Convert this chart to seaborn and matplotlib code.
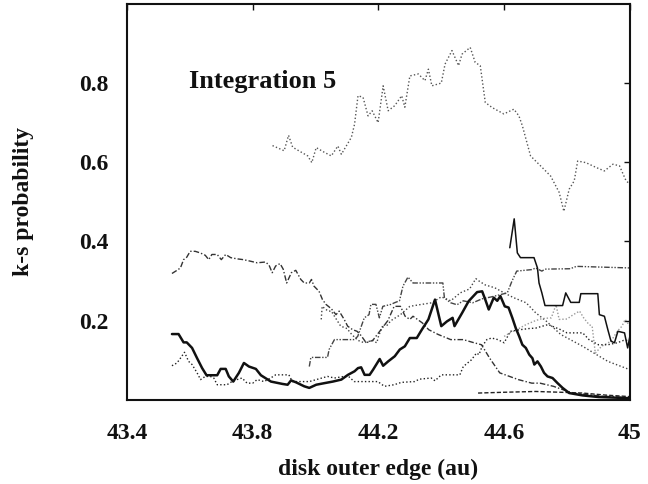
import numpy as np
import pandas as pd
import matplotlib
matplotlib.use("Agg")
import matplotlib.pyplot as plt
import seaborn as sns

# ---------------- data ----------------
x_ticks = [43.4, 43.8, 44.2, 44.6, 45.0]
x_tick_labels = ["43.4", "43.8", "44.2", "44.6", "45"]
y_ticks = [0.2, 0.4, 0.6, 0.8]
y_tick_labels = ["0.2", "0.4", "0.6", "0.8"]

# top gray dotted series
a_x = [43.863, 43.90, 43.914, 43.927, 43.975, 43.988, 44.002, 44.028, 44.05, 44.071, 44.082,
       44.114, 44.124, 44.135, 44.151, 44.167, 44.18, 44.199, 44.215, 44.231, 44.252, 44.274,
       44.284, 44.30, 44.327, 44.348, 44.359, 44.37, 44.40, 44.412, 44.434, 44.455, 44.466,
       44.492, 44.508, 44.524, 44.54, 44.562, 44.599, 44.615, 44.631, 44.647, 44.658, 44.684,
       44.727, 44.748, 44.775, 44.79, 44.807, 44.823, 44.834, 44.86, 44.892, 44.919, 44.946,
       44.967, 44.988, 45.0]
a_y = [0.642, 0.629, 0.668, 0.638, 0.616, 0.599, 0.637, 0.625, 0.616, 0.641, 0.62,
       0.663, 0.696, 0.768, 0.764, 0.717, 0.73, 0.70, 0.793, 0.73, 0.743, 0.768,
       0.739, 0.818, 0.823, 0.806, 0.835, 0.793, 0.80, 0.848, 0.882, 0.844, 0.873,
       0.89, 0.852, 0.844, 0.751, 0.738, 0.722, 0.728, 0.734, 0.717, 0.692, 0.616,
       0.582, 0.565, 0.524, 0.476, 0.532, 0.553, 0.603, 0.599, 0.587, 0.578, 0.595,
       0.591, 0.553, 0.545]

# thick solid series
b_x = [43.543, 43.564, 43.58, 43.59, 43.607, 43.623, 43.639, 43.653, 43.687, 43.698, 43.714,
       43.724, 43.738, 43.756, 43.772, 43.788, 43.81, 43.826, 43.858, 43.895, 43.911, 43.922,
       43.938, 43.964, 43.98, 44.002, 44.028, 44.055, 44.082, 44.103, 44.124, 44.135, 44.145,
       44.156, 44.172, 44.183, 44.204, 44.215, 44.231, 44.252, 44.268, 44.284, 44.30, 44.322,
       44.338, 44.359, 44.38, 44.40, 44.418, 44.436, 44.442, 44.466, 44.487, 44.514, 44.53,
       44.54, 44.551, 44.567, 44.578, 44.588, 44.602, 44.614, 44.626, 44.637, 44.648, 44.658,
       44.669, 44.68, 44.69, 44.696, 44.706, 44.717, 44.727, 44.738, 44.754, 44.77, 44.786,
       44.807, 44.85, 44.90, 45.0]
b_y = [0.166, 0.166, 0.145, 0.145, 0.131, 0.105, 0.08, 0.062, 0.062, 0.078, 0.078,
       0.059, 0.046, 0.068, 0.093, 0.084, 0.078, 0.062, 0.046, 0.04, 0.038, 0.049,
       0.044, 0.034, 0.03, 0.038, 0.042, 0.046, 0.051, 0.063, 0.072, 0.08, 0.082,
       0.063, 0.063, 0.076, 0.103, 0.086, 0.097, 0.110, 0.127, 0.135, 0.156, 0.156,
       0.177, 0.203, 0.253, 0.186, 0.198, 0.207, 0.186, 0.219, 0.249, 0.272, 0.274,
       0.253, 0.228, 0.258, 0.25, 0.262, 0.236, 0.233, 0.207, 0.181, 0.16, 0.139,
       0.131, 0.114, 0.105, 0.089, 0.097, 0.084, 0.068, 0.059, 0.055, 0.042, 0.03,
       0.017, 0.011, 0.007, 0.004]

# thin solid series (right)
c_x = [44.618, 44.632, 44.642, 44.652, 44.695, 44.706, 44.711, 44.72, 44.73, 44.786, 44.796,
       44.812, 44.839, 44.844, 44.898, 44.903, 44.919, 44.93, 44.94, 44.951, 44.962, 44.983,
       44.993, 45.0]
c_y = [0.384, 0.457, 0.371, 0.359, 0.359, 0.333, 0.295, 0.27, 0.238, 0.238, 0.27,
       0.246, 0.246, 0.268, 0.268, 0.215, 0.211, 0.177, 0.148, 0.144, 0.173, 0.169,
       0.131, 0.16]

# dash-dot series
d_x = [43.543, 43.559, 43.57, 43.58, 43.59, 43.601, 43.617, 43.633, 43.649, 43.66, 43.67,
       43.687, 43.70, 43.714, 43.73, 43.75, 43.77, 43.793, 43.814, 43.841, 43.852, 43.862,
       43.873, 43.887, 43.897, 43.908, 43.923, 43.937, 43.953, 43.964, 43.98, 43.987, 43.995,
       44.011, 44.022, 44.033, 44.05, 44.065, 44.075, 44.091, 44.102, 44.118, 44.132, 44.145,
       44.161, 44.182, 44.208, 44.23, 44.25, 44.27, 44.285, 44.30, 44.31, 44.34, 44.36,
       44.39, 44.43, 44.47, 44.50, 44.528, 44.554, 44.586, 44.645, 44.688, 44.714, 44.757,
       44.789, 44.82, 44.9, 45.0]
d_y = [0.319, 0.327, 0.333, 0.354, 0.36, 0.375, 0.375, 0.371, 0.365, 0.354, 0.367,
       0.367, 0.354, 0.367, 0.359, 0.356, 0.354, 0.35, 0.346, 0.348, 0.34, 0.321,
       0.338, 0.344, 0.33, 0.295, 0.321, 0.327, 0.304, 0.295, 0.295, 0.304, 0.287,
       0.274, 0.253, 0.241, 0.23, 0.215, 0.224, 0.203, 0.186, 0.177, 0.173, 0.162,
       0.144, 0.15, 0.177, 0.20, 0.236, 0.236, 0.211, 0.203, 0.211, 0.194, 0.177,
       0.165, 0.152, 0.152, 0.145, 0.139, 0.105, 0.068, 0.051, 0.042, 0.042, 0.034,
       0.025, 0.017, 0.01, 0.005]

# dash-dot-dot stepped series
e_x = [43.98, 43.985, 44.038, 44.043, 44.06, 44.123, 44.134, 44.155, 44.17, 44.176, 44.192,
       44.203, 44.214, 44.24, 44.251, 44.267, 44.278, 44.294, 44.31, 44.405, 44.41, 44.43,
       44.45, 44.47, 44.50, 44.53, 44.56, 44.59, 44.61, 44.625, 44.64, 44.69, 44.70, 44.72,
       44.73, 44.81, 44.83, 45.0]
e_y = [0.084, 0.107, 0.107, 0.127, 0.152, 0.152, 0.16, 0.207, 0.215, 0.241, 0.241,
       0.207, 0.236, 0.241, 0.245, 0.25, 0.287, 0.31, 0.295, 0.295, 0.257, 0.245,
       0.24, 0.25, 0.245, 0.255, 0.26, 0.266, 0.27, 0.30, 0.325, 0.329, 0.333, 0.325,
       0.33, 0.331, 0.337, 0.333]

# dotted low series
f_x = [43.543, 43.559, 43.57, 43.583, 43.596, 43.607, 43.623, 43.634, 43.649, 43.665, 43.676,
       43.687, 43.718, 43.734, 43.75, 43.766, 43.782, 43.80, 43.814, 43.836, 43.857, 43.873,
       43.915, 43.926, 43.98, 44.038, 44.06, 44.091, 44.105, 44.123, 44.198, 44.219, 44.25,
       44.273, 44.315, 44.33, 44.368, 44.38, 44.40, 44.459, 44.47, 44.496, 44.512, 44.52,
       44.53, 44.545, 44.56, 44.58, 44.60, 44.62, 44.65, 44.68, 44.70, 44.74, 44.78, 44.80,
       44.85, 44.87, 44.90, 44.93, 44.96, 44.98, 45.0]
f_y = [0.086, 0.093, 0.105, 0.12, 0.097, 0.089, 0.068, 0.051, 0.059, 0.059, 0.055,
       0.038, 0.038, 0.046, 0.051, 0.055, 0.042, 0.042, 0.051, 0.046, 0.055, 0.063,
       0.063, 0.046, 0.046, 0.059, 0.055, 0.059, 0.059, 0.046, 0.046, 0.034, 0.038,
       0.044, 0.046, 0.052, 0.055, 0.048, 0.063, 0.063, 0.084, 0.101, 0.118, 0.114,
       0.135, 0.152, 0.156, 0.152, 0.144, 0.173, 0.177, 0.18, 0.181, 0.19, 0.177, 0.169,
       0.169, 0.152, 0.139, 0.139, 0.144, 0.15, 0.15]

# dotted series starting near 44.02, long decline
g_x = [44.018, 44.021, 44.03, 44.04, 44.05, 44.06, 44.08, 44.10, 44.115, 44.135, 44.155,
       44.18, 44.195, 44.20, 44.215, 44.225, 44.24, 44.27, 44.30, 44.33, 44.37, 44.40,
       44.43, 44.46, 44.49, 44.51, 44.52, 44.54, 44.57, 44.60, 44.63, 44.67, 44.70, 44.735,
       44.78, 44.85, 44.93, 45.0]
g_y = [0.203, 0.236, 0.23, 0.224, 0.224, 0.211, 0.186, 0.18, 0.165, 0.15, 0.144,
       0.15, 0.144, 0.16, 0.19, 0.186, 0.2, 0.215, 0.236, 0.24, 0.245, 0.26,
       0.25, 0.27, 0.28, 0.306, 0.30, 0.29, 0.283, 0.27, 0.258, 0.245, 0.22, 0.198,
       0.165, 0.135, 0.097, 0.076]

# light gray dotted series (right)
j_x = [44.60, 44.62, 44.64, 44.67, 44.70, 44.72, 44.75, 44.765, 44.775, 44.80, 44.82,
       44.84, 44.853, 44.87, 44.88, 44.89, 44.91, 44.94, 44.96, 44.975, 44.985, 45.0]
j_y = [0.16, 0.17, 0.177, 0.19, 0.20, 0.205, 0.207, 0.24, 0.203, 0.204, 0.215,
       0.224, 0.207, 0.19, 0.186, 0.118, 0.135, 0.148, 0.173, 0.186, 0.203, 0.186]

# dashed flat series at the bottom
k_x = [44.517, 44.60, 44.70, 44.78, 44.85, 44.92, 45.0]
k_y = [0.017, 0.019, 0.021, 0.019, 0.017, 0.012, 0.008]

title_text = "Integration 5"
x_label = "disk outer edge (au)"
y_label = "k-s probability"

# ---------------- styling ----------------
sns.set_theme(style="white")
plt.rcParams["font.family"] = ["Liberation Serif", "DejaVu Serif"]
plt.rcParams["font.weight"] = "bold"

fig = plt.figure(figsize=(6.48, 4.84), dpi=100)
ax = fig.add_axes([0.196, 0.174, 0.776, 0.818])

series = [
    (a_x, a_y, dict(color="#555555", linewidth=1.0, linestyle=(0, (1, 1.6)))),
    (g_x, g_y, dict(color="#444444", linewidth=1.0, linestyle=(0, (1, 1.6)))),
    (j_x, j_y, dict(color="#999999", linewidth=1.0, linestyle=(0, (1, 1.4)))),
    (f_x, f_y, dict(color="#222222", linewidth=1.0, linestyle=(0, (1, 1.6)))),
    (d_x, d_y, dict(color="#333333", linewidth=1.0, linestyle=(0, (4, 1.5, 1, 1.5)))),
    (e_x, e_y, dict(color="#444444", linewidth=1.0, linestyle=(0, (4, 1.2, 1, 1.2, 1, 1.2)))),
    (k_x, k_y, dict(color="#222222", linewidth=1.0, linestyle=(0, (3, 1.5)))),
    (c_x, c_y, dict(color="#111111", linewidth=1.1, linestyle="-")),
    (b_x, b_y, dict(color="#111111", linewidth=1.8, linestyle="-")),
]
for xs, ys, kw in series:
    df = pd.DataFrame({"x": xs, "y": ys})
    sns.lineplot(data=df, x="x", y="y", ax=ax, estimator=None, sort=False, **kw)

ax.set_xlim(43.4, 45.0)
ax.set_ylim(0.0, 1.0)
ax.set_xticks(x_ticks)
ax.set_xticklabels(x_tick_labels)
ax.set_yticks(y_ticks)
ax.set_yticklabels(y_tick_labels)
ax.tick_params(axis="both", which="both", direction="in", length=4, width=1,
               top=True, right=True, labelsize=17, colors="#111111")
ax.tick_params(axis="x", pad=17)
ax.tick_params(axis="y", pad=13)
for lab in ax.get_xticklabels() + ax.get_yticklabels():
    lab.set_fontweight("bold")

for sp in ax.spines.values():
    sp.set_visible(True)
    sp.set_color("#111111")
    sp.set_linewidth(1.5)

ax.set_xlabel(x_label, fontsize=17, fontweight="bold", color="#111111")
ax.set_ylabel(y_label, fontsize=17, fontweight="bold", color="#111111")
ax.xaxis.set_label_coords(0.5, -0.15)
ax.yaxis.set_label_coords(-0.185, 0.5)

ax.text(0.124, 0.788, title_text, transform=ax.transAxes, fontsize=19,
        fontweight="bold", ha="left", va="baseline", color="#111111")

fig.savefig("out.png", dpi=100)
